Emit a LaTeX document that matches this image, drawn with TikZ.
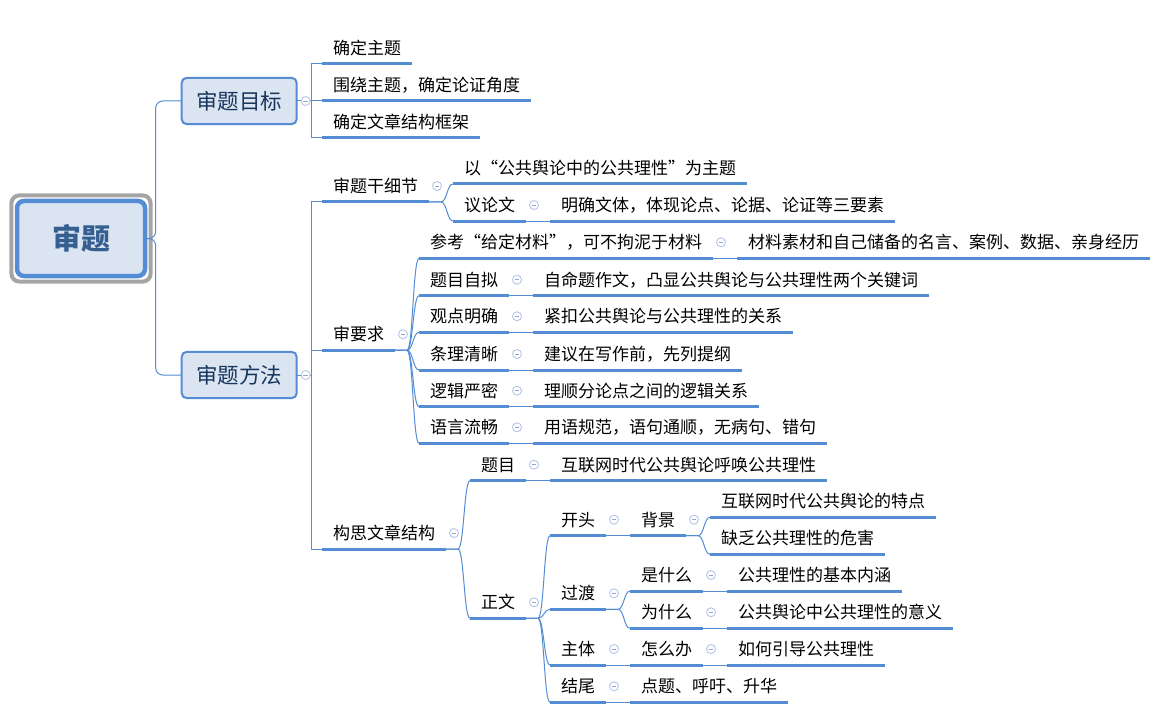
\documentclass[tikz,border=0pt]{standalone}
\usepackage{fontspec}
\newfontfamily\cjk{Noto Sans CJK SC}
\usetikzlibrary{calc}
\definecolor{lineblue}{RGB}{84,141,212}
\definecolor{boxfill}{RGB}{219,229,241}
\definecolor{navy}{RGB}{23,54,93}
\definecolor{roottext}{RGB}{54,95,145}
\definecolor{framegray}{RGB}{165,165,165}
\definecolor{knobcol}{RGB}{175,192,234}
\definecolor{minuscol}{RGB}{150,165,200}
\tikzset{
  topic/.style={font=\cjk\fontsize{17}{20}\selectfont, inner xsep=11pt, inner ysep=7.6pt,
    text height=14.96pt, text depth=2.04pt, anchor=south west, outer sep=0pt},
  uline/.style={draw=lineblue, line width=3pt},
  conn/.style={draw=lineblue, line width=1pt},
  mainbox/.style={draw=lineblue, fill=boxfill, line width=2pt, rounded corners=5pt,
    minimum width=115pt, minimum height=46.3pt, inner sep=0pt, outer sep=0pt, text=navy,
    text height=18.9pt, text depth=2.6pt, font=\cjk\fontsize{21.5}{24}\selectfont},
  rootbox/.style={draw=lineblue, fill=boxfill, line width=4.5pt, rounded corners=7pt,
    minimum width=128pt, minimum height=75pt, inner sep=0pt, outer sep=0pt, text=roottext,
    text height=25.5pt, text depth=3.5pt, font=\cjk\bfseries\fontsize{29}{32}\selectfont},
  rootframe/.style={draw=framegray, line width=4pt, rounded corners=8pt},
  knobc/.style={draw=knobcol, fill=white, line width=0.8pt, circle, minimum size=9pt, inner sep=0pt},
  knobminus/.style={draw=minuscol, line width=0.8pt}
}
\newcommand\tp[3]{\node[topic] (#1) at (#2) {#3};
  \draw[uline] (#1.south west) -- (#1.south east);}
\newcommand\tc[4]{\path (#2.south east) ++(24,0) coordinate (#1-pos);
  \tp{#1}{#1-pos |- 0,#3}{#4}}
\newcommand\knobt[1]{\node[knobc] (k-#1) at ($(#1.south east)+(8,-16)$) {};
  \draw[knobminus] ($(k-#1.center)+(-2.4,0)$) -- ($(k-#1.center)+(2.4,0)$);}
\newcommand\knobb[1]{\node[knobc] (k-#1) at ($(#1.east)+(9,0)$) {};
  \draw[knobminus] ($(k-#1.center)+(-2.4,0)$) -- ($(k-#1.center)+(2.4,0)$);}
\newcommand\single[2]{\draw[conn] (#1.south east) -- (#2.south west);}
\newcommand\multi[2]{\draw[conn] (#1.south east) -- ++(12,0) .. controls +(6,0) and ($(#2.south west)+(-6,0)$) .. (#2.south west);}
\begin{document}
\begin{tikzpicture}[x=1pt,y=-1pt]
\fill[white] (0,0) rectangle (1164,714);
\useasboundingbox (0,0) rectangle (1164,714);
% root and main boxes
\node[rootbox] (root) at (81,238.5) {审题};
\draw[rootframe] ($(root.north west)+(-5.6,-5.6)$) rectangle ($(root.south east)+(5.6,5.6)$);
\node[mainbox] (goal) at (239.2,101) {审题目标};
\node[mainbox] (method) at (239.2,375) {审题方法};
\draw[conn, rounded corners=7pt] (root.east) -- ++(10.7,0) |- (goal.west);
\draw[conn, rounded corners=7pt] (root.east) -- ++(10.7,0) |- (method.west);
% level 2 under goal
\tp{g1}{322,64}{确定主题}
\tp{g2}{322,101}{围绕主题，确定论证角度}
\tp{g3}{322,138}{确定文章结构框架}
\draw[conn] (goal.east) -- ++(14.3,0) |- (g1.south west);
\draw[conn] (goal.east) -- (g2.south west);
\draw[conn] (goal.east) -- ++(14.3,0) |- (g3.south west);
% level 2 under method
\tp{m1}{322,202}{审题干细节}
\tp{m2}{322,350.3}{审要求}
\tp{m3}{322,549}{构思文章结构}
\draw[conn] (method.east) -- ++(14.3,0) |- (m1.south west);
\draw[conn] (method.east) -- ++(14.3,0) |- (m2.south west);
\draw[conn] (method.east) -- ++(14.3,0) |- (m3.south west);
% 审题干细节
\tc{m11}{m1}{184}{以“公共舆论中的公共理性”为主题}
\tc{m12}{m1}{221}{议论文}
\tc{m121}{m12}{221}{明确文体，体现论点、论据、论证等三要素}
\multi{m1}{m11}\multi{m1}{m12}\single{m12}{m121}
% 审要求
\tc{r1}{m2}{258.3}{参考“给定材料”，可不拘泥于材料}
\tc{r11}{r1}{258.3}{材料素材和自己储备的名言、案例、数据、亲身经历}
\tc{r2}{m2}{295.7}{题目自拟}
\tc{r21}{r2}{295.7}{自命题作文，凸显公共舆论与公共理性两个关键词}
\tc{r3}{m2}{332.3}{观点明确}
\tc{r31}{r3}{332.3}{紧扣公共舆论与公共理性的关系}
\tc{r4}{m2}{370}{条理清晰}
\tc{r41}{r4}{370}{建议在写作前，先列提纲}
\tc{r5}{m2}{406.7}{逻辑严密}
\tc{r51}{r5}{406.7}{理顺分论点之间的逻辑关系}
\tc{r6}{m2}{443.3}{语言流畅}
\tc{r61}{r6}{443.3}{用语规范，语句通顺，无病句、错句}
\multi{m2}{r1}\multi{m2}{r2}\multi{m2}{r3}\multi{m2}{r4}\multi{m2}{r5}\multi{m2}{r6}
\single{r1}{r11}\single{r2}{r21}\single{r3}{r31}\single{r4}{r41}\single{r5}{r51}\single{r6}{r61}
% 构思文章结构
\tc{s1}{m3}{480.7}{题目}
\tc{s11}{s1}{480.7}{互联网时代公共舆论呼唤公共理性}
\tc{s2}{m3}{618.3}{正文}
\multi{m3}{s1}\multi{m3}{s2}\single{s1}{s11}
\tc{a}{s2}{535.7}{开头}
\tc{a1}{a}{535.7}{背景}
\tc{a11}{a1}{517.3}{互联网时代公共舆论的特点}
\tc{a12}{a1}{554.3}{缺乏公共理性的危害}
\tc{b}{s2}{609.3}{过渡}
\tc{b1}{b}{591}{是什么}
\tc{b11}{b1}{591}{公共理性的基本内涵}
\tc{b2}{b}{628.3}{为什么}
\tc{b21}{b2}{628.3}{公共舆论中公共理性的意义}
\tc{c}{s2}{665}{主体}
\tc{c1}{c}{665}{怎么办}
\tc{c11}{c1}{665}{如何引导公共理性}
\tc{d}{s2}{702.3}{结尾}
\tc{d1}{d}{702.3}{点题、呼吁、升华}
\multi{s2}{a}\multi{s2}{b}\multi{s2}{c}\multi{s2}{d}
\single{a}{a1}\multi{a1}{a11}\multi{a1}{a12}
\multi{b}{b1}\multi{b}{b2}\single{b1}{b11}\single{b2}{b21}
\single{c}{c1}\single{c1}{c11}
\single{d}{d1}
% collapse knobs
\knobb{goal}\knobb{method}
\knobt{m1}\knobt{m12}\knobt{m2}
\knobt{r1}\knobt{r2}\knobt{r3}\knobt{r4}\knobt{r5}\knobt{r6}
\knobt{m3}\knobt{s1}\knobt{s2}
\knobt{a}\knobt{a1}\knobt{b}\knobt{b1}\knobt{b2}\knobt{c}\knobt{c1}\knobt{d}
\end{tikzpicture}
\end{document}
